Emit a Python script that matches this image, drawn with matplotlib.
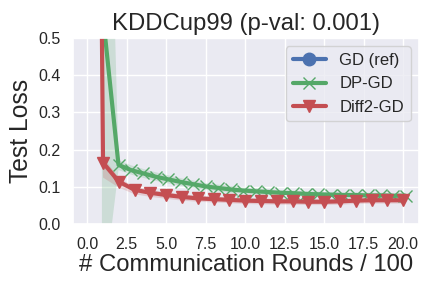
import numpy as np
import matplotlib
matplotlib.use('Agg')
import matplotlib.pyplot as plt
import seaborn as sns

sns.set_theme(style='darkgrid')
plt.rcParams['font.family'] = ['Liberation Sans', 'DejaVu Sans']

# GD (ref) has no visible points in the plotted range
gd_x = []
gd_y = []

dp_x = [0.93, 1.98, 2.77, 3.56, 4.35, 5.14, 5.93, 6.72, 7.51, 8.30, 9.09, 9.88,
        10.67, 11.46, 12.25, 13.04, 13.83, 14.62, 15.41, 16.20, 16.99, 17.78,
        18.57, 19.36, 20.15]
dp_y = [0.586, 0.159, 0.145, 0.136, 0.127, 0.120, 0.113, 0.107, 0.101, 0.097, 0.093,
        0.090, 0.088, 0.086, 0.084, 0.083, 0.081, 0.080, 0.079, 0.078, 0.078,
        0.077, 0.077, 0.076, 0.076]
dp_lo = [-0.22, 0.145, 0.133, 0.124, 0.116, 0.109, 0.103, 0.097, 0.092, 0.088, 0.084,
         0.082, 0.080, 0.078, 0.077, 0.076, 0.074, 0.073, 0.072, 0.071, 0.071,
         0.070, 0.070, 0.069, 0.069]
dp_hi = [1.82, 0.172, 0.158, 0.148, 0.139, 0.131, 0.123, 0.117, 0.110, 0.106, 0.102,
         0.098, 0.096, 0.094, 0.091, 0.090, 0.088, 0.087, 0.086, 0.085, 0.085,
         0.084, 0.084, 0.083, 0.083]

diff_x = [0, 1, 2, 3, 4, 5, 6, 7, 8, 9, 10, 11, 12, 13, 14, 15, 16, 17, 18, 19, 20]
diff_y = [5.0, 0.165, 0.114, 0.092, 0.084, 0.078, 0.073, 0.069, 0.067, 0.065, 0.063,
          0.062, 0.061, 0.061, 0.060, 0.060, 0.061, 0.063, 0.064, 0.064, 0.064]
diff_lo = [4.8, 0.125, 0.098, 0.080, 0.073, 0.068, 0.063, 0.060, 0.058, 0.056, 0.054,
           0.053, 0.052, 0.052, 0.051, 0.051, 0.052, 0.054, 0.055, 0.055, 0.055]
diff_hi = [5.2, 0.180, 0.124, 0.100, 0.092, 0.086, 0.080, 0.076, 0.074, 0.072, 0.070,
           0.069, 0.068, 0.068, 0.067, 0.067, 0.068, 0.070, 0.071, 0.071, 0.071]

blue, green, red = '#4C72B0', '#55A868', '#C44E52'

fig = plt.figure(figsize=(4.32, 2.88), dpi=100)
ax = fig.add_axes([0.169, 0.222, 0.801, 0.646])

ax.plot(gd_x, gd_y, color=blue, lw=3, marker='o', ms=9, label='GD (ref)')

ax.fill_between(dp_x, dp_lo, dp_hi, color=green, alpha=0.2, lw=0)
ax.plot(dp_x, dp_y, color=green, lw=3, marker='x', ms=8, mew=1, label='DP-GD')

ax.fill_between(diff_x, diff_lo, diff_hi, color=red, alpha=0.2, lw=0)
ax.plot(diff_x, diff_y, color=red, lw=3, marker='v', ms=9, label='Diff2-GD')

ax.set_xlim(-0.9, 21.0)
ax.set_ylim(0, 0.5)
ax.set_xticks(np.arange(0, 20.1, 2.5))
ax.set_yticks(np.arange(0, 0.51, 0.1))
ax.tick_params(labelsize=11.5, pad=3)
ax.set_title('KDDCup99 (p-val: 0.001)', fontsize=17.2)
ax.set_xlabel('# Communication Rounds / 100', fontsize=17.2, labelpad=2)
ax.set_ylabel('Test Loss', fontsize=17.7)
ax.legend(loc='upper right', fontsize=12)

fig.savefig('out.png', dpi=100)
